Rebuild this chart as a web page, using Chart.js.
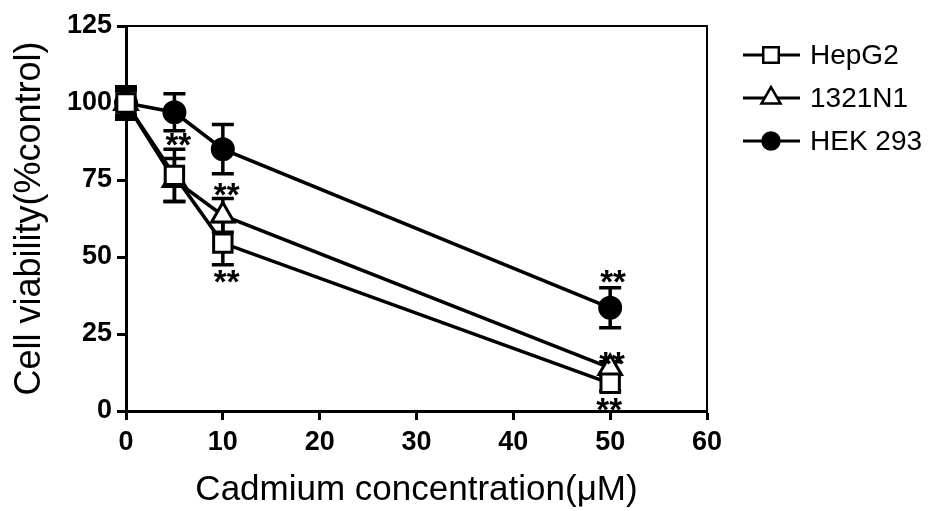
<!DOCTYPE html>
<html>
<head>
<meta charset="utf-8">
<script src="https://cdn.jsdelivr.net/npm/chart.js@4"></script>
<style>
  body { margin: 0; background: #fff; }
  #wrap { width: 936px; height: 511px; }
</style>
</head>
<body>
<div id="wrap"><canvas id="myChart" width="936" height="511"></canvas></div>
<script>
// cadmium doses (uM)
var doses = [0, 5, 10, 50];

// mean viability (% of control) per cell line
var hepg2  = [100, 76.5, 54.5, 9];
var n1321  = [100, 75, 63.5, 14];
var hek293 = [100, 97, 85, 33.5];

// +/- error for each point
var hepg2Err  = [5, 8.5, 7, 2.5];
var n1321Err  = [4, 7, 5.5, 2];
var hek293Err = [5.3, 6, 8, 6.5];

// "**" significance marks (dose, value where the mark sits)
var starX = [5.4, 10.4, 10.4, 50.3, 50.2, 49.9];
var starY = [88.6, 72.4, 44, 44, 17.6, 2.6];

// axis ticks
var xTicks = [0, 10, 20, 30, 40, 50, 60];
var yTicks = [0, 25, 50, 75, 100, 125];

var fam = "'Liberation Sans', Arial, sans-serif";

function pts(ys) {
  let out = [];
  for (let i = 0; i < doses.length; i++) {
    out.push({x: doses[i], y: ys[i]});
  }
  return out;
}

// error bars, drawn under the markers
var errorBars = {
  id: 'errorBars',
  beforeDatasetsDraw(chart) {
    let ctx = chart.ctx;
    let xs = chart.scales.x, ys = chart.scales.y;
    ctx.save();
    ctx.strokeStyle = '#000';
    ctx.lineWidth = 3.5;
    chart.data.datasets.forEach(function(ds) {
      for (let i = 0; i < ds.data.length; i++) {
        let px = xs.getPixelForValue(ds.data[i].x);
        let top = ys.getPixelForValue(ds.data[i].y + ds.err[i]);
        let bot = ys.getPixelForValue(ds.data[i].y - ds.err[i]);
        ctx.beginPath();
        ctx.moveTo(px, top); ctx.lineTo(px, bot);
        ctx.moveTo(px - 11, top); ctx.lineTo(px + 11, top);
        ctx.moveTo(px - 11, bot); ctx.lineTo(px + 11, bot);
        ctx.stroke();
      }
    });
    // top and right frame of the plot box
    let a = chart.chartArea;
    ctx.lineWidth = 2;
    ctx.beginPath();
    ctx.moveTo(a.left, a.top); ctx.lineTo(a.right, a.top); ctx.lineTo(a.right, a.bottom);
    ctx.stroke();
    ctx.restore();
  }
};

// stars + legend on top
var extras = {
  id: 'extras',
  afterDraw(chart) {
    let ctx = chart.ctx;
    let xs = chart.scales.x, ys = chart.scales.y;
    ctx.save();
    ctx.fillStyle = '#000';
    ctx.font = 'bold 33px ' + fam;
    ctx.textAlign = 'center';
    ctx.textBaseline = 'alphabetic';
    for (let i = 0; i < starX.length; i++) {
      let px = xs.getPixelForValue(starX[i]);
      let py = ys.getPixelForValue(starY[i]);
      ctx.fillText('**', px, py + 18);
    }

    // legend: line through marker, label to the right
    let a = chart.chartArea;
    let x0 = a.right + 36;
    chart.data.datasets.forEach(function(ds, i) {
      let y = a.top + 29 + i * 43;
      ctx.strokeStyle = '#000';
      ctx.lineWidth = 3;
      ctx.beginPath();
      ctx.moveTo(x0, y); ctx.lineTo(x0 + 57, y);
      ctx.stroke();
      ctx.fillStyle = ds.pointBackgroundColor;
      ctx.lineWidth = 2.5;
      Chart.helpers.drawPoint(ctx, {pointStyle: ds.pointStyle, radius: ds.pointRadius - 2, borderWidth: 2.5, rotation: 0}, x0 + 28, y);
      ctx.fillStyle = '#000';
      ctx.font = '28px ' + fam;
      ctx.textAlign = 'left';
      ctx.textBaseline = 'middle';
      ctx.fillText(ds.label, x0 + 67, y + 1);
    });
    ctx.restore();
  }
};

function line(label, ys, err, style, radius, fill) {
  return {
    label: label,
    data: pts(ys),
    err: err,
    borderColor: '#000',
    borderWidth: 3.5,
    pointStyle: style,
    pointRadius: radius,
    pointBorderWidth: 3,
    pointBorderColor: '#000',
    pointBackgroundColor: fill,
    tension: 0,
    clip: false
  };
}

let options = {
  type: 'line',
  data: {
    datasets: [
      line('HepG2', hepg2, hepg2Err, 'rect', 13, '#fff'),
      line('1321N1', n1321, n1321Err, 'triangle', 13, '#fff'),
      line('HEK 293', hek293, hek293Err, 'circle', 10.5, '#000')
    ]
  },
  options: {
    responsive: false,
    animation: false,
    layout: { padding: { left: 0, right: 229, top: 26, bottom: 0 } },
    plugins: { legend: { display: false }, tooltip: { enabled: false } },
    scales: {
      x: {
        type: 'linear', min: 0, max: 60,
        afterBuildTicks: function(s) { s.ticks = xTicks.map(v => ({value: v})); },
        afterFit: function(s) { s.height = 100; },
        grid: { drawOnChartArea: false, tickLength: 9, tickWidth: 3, tickColor: '#000' },
        border: { color: '#000', width: 3 },
        ticks: { color: '#000', padding: 6, maxRotation: 0, autoSkip: false,
                 font: { family: fam, size: 27, weight: 'bold' } },
        title: { display: true, text: 'Cadmium concentration(μM)', color: '#000',
                 font: { family: fam, size: 35, lineHeight: 1 }, padding: { top: 0, bottom: 3 } }
      },
      y: {
        type: 'linear', min: 0, max: 125,
        afterBuildTicks: function(s) { s.ticks = yTicks.map(v => ({value: v})); },
        afterFit: function(s) { s.width = 126; },
        grid: { drawOnChartArea: false, tickLength: 9, tickWidth: 3, tickColor: '#000' },
        border: { color: '#000', width: 3 },
        ticks: { color: '#000', padding: 5, autoSkip: false,
                 font: { family: fam, size: 27, weight: 'bold' } },
        title: { display: true, text: 'Cell viability(%control)', color: '#000',
                 font: { family: fam, size: 36, lineHeight: 1 }, padding: { top: 12, bottom: 0 } }
      }
    }
  },
  plugins: [errorBars, extras]
};

let mChart = new Chart(document.getElementById('myChart'), options);
</script>
</body>
</html>
